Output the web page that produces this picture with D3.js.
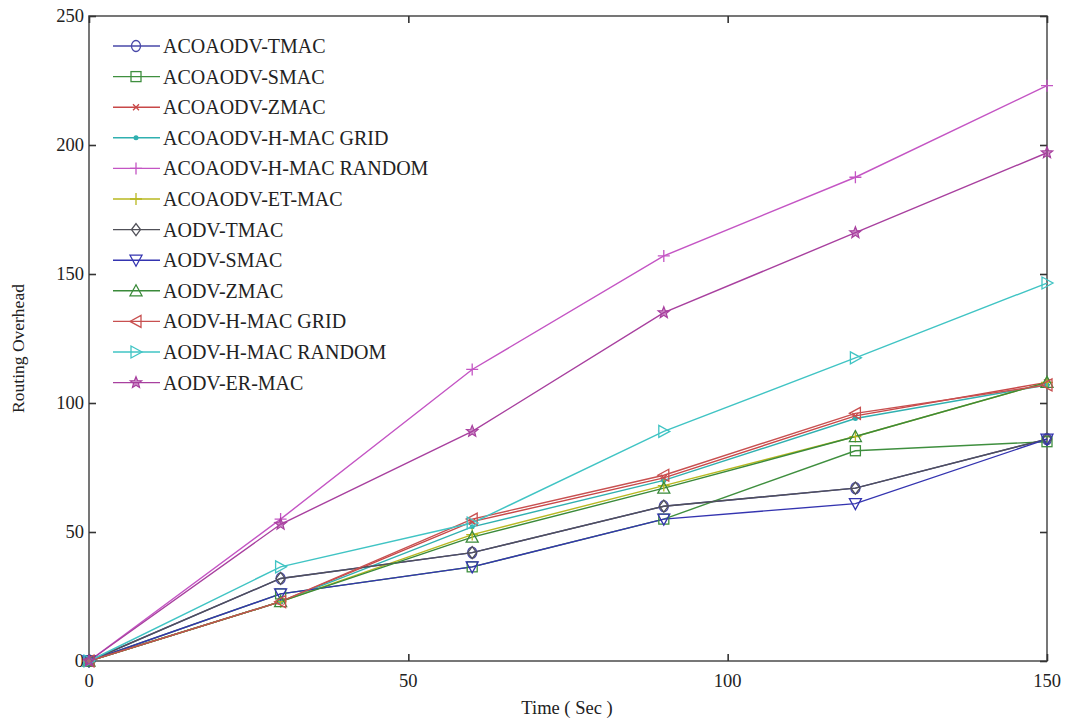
<!DOCTYPE html>
<html>
<head>
<meta charset="utf-8">
<script src="https://cdn.jsdelivr.net/npm/d3@7"></script>
<style>
  body { margin: 0; background: #fff; }
  svg { display: block; }
  text { font-family: "Liberation Serif", "DejaVu Serif", serif; fill: #222; }
</style>
</head>
<body>
<svg id="chart" width="1065" height="723"></svg>
<script>
// ---- data ----
const times = [0, 30, 60, 90, 120, 150];
const seriesNames = [
  "ACOAODV-TMAC", "ACOAODV-SMAC", "ACOAODV-ZMAC", "ACOAODV-H-MAC GRID",
  "ACOAODV-H-MAC RANDOM", "ACOAODV-ET-MAC", "AODV-TMAC", "AODV-SMAC",
  "AODV-ZMAC", "AODV-H-MAC GRID", "AODV-H-MAC RANDOM", "AODV-ER-MAC"
];
const acoaodvTmac    = [0, 32, 42, 60, 67, 86];
const acoaodvSmac    = [0, 26, 36.5, 55, 81.5, 85];
const acoaodvZmac    = [0, 23, 54, 71, 95, 108];
const acoaodvHGrid   = [0, 23, 52, 70, 94, 107];
const acoaodvHRandom = [0, 55, 113, 157, 187.5, 223];
const acoaodvEtMac   = [0, 23, 49, 68, 87, 108];
const aodvTmac       = [0, 32, 42, 60, 67, 86];
const aodvSmac       = [0, 26, 36.5, 55, 61, 86];
const aodvZmac       = [0, 23, 48, 67, 87, 108];
const aodvHGrid      = [0, 23, 55, 72, 96, 107];
const aodvHRandom    = [0, 36.5, 53.5, 89, 117.5, 146.5];
const aodvErMac      = [0, 53, 89, 135, 166, 197];
const seriesValues = [acoaodvTmac, acoaodvSmac, acoaodvZmac, acoaodvHGrid, acoaodvHRandom,
  acoaodvEtMac, aodvTmac, aodvSmac, aodvZmac, aodvHGrid, aodvHRandom, aodvErMac];
const xTicks = [0, 50, 100, 150];
const yTicks = [0, 50, 100, 150, 200, 250];

// ---- styles ----
const colors = ["#4848a8", "#3f8f3f", "#c84848", "#30b0b0", "#c455c4", "#b8b820",
  "#505058", "#3434b0", "#3a8a3a", "#c85050", "#40c4c4", "#a8409f"];
const markers = ["circle", "square", "x", "dot", "plus", "plus", "diamond", "tdown",
  "tup", "tleft", "tright", "star"];

const svg = d3.select("#chart");
const L = 89, R = 1047, T = 16, B = 661;
const x = d3.scaleLinear().domain([0, 150]).range([L, R]);
const y = d3.scaleLinear().domain([0, 250]).range([B, T]);

// frame
svg.append("rect").attr("x", L).attr("y", T).attr("width", R - L).attr("height", B - T)
  .attr("fill", "none").attr("stroke", "#555").attr("stroke-width", 1.6);

// axes (ticks inward)
const tickLen = 7;
const gx = svg.append("g").attr("transform", `translate(0,${B})`)
  .call(d3.axisTop(x).tickValues(xTicks).tickSize(tickLen).tickFormat(""));
const gxTop = svg.append("g").attr("transform", `translate(0,${T})`)
  .call(d3.axisBottom(x).tickValues(xTicks).tickSize(tickLen).tickFormat(""));
const gy = svg.append("g").attr("transform", `translate(${L},0)`)
  .call(d3.axisRight(y).tickValues(yTicks).tickSize(tickLen).tickFormat(""));
const gyR = svg.append("g").attr("transform", `translate(${R},0)`)
  .call(d3.axisLeft(y).tickValues(yTicks).tickSize(tickLen).tickFormat(""));
[gx, gxTop, gy, gyR].forEach(g => {
  g.select(".domain").remove();
  g.selectAll("line").attr("stroke", "#333").attr("stroke-width", 1.6);
});
// tick labels
svg.append("g").selectAll("text").data(xTicks).join("text")
  .attr("x", d => x(d)).attr("y", B + 26).attr("text-anchor", "middle")
  .attr("font-size", 18.5).text(d => d);
svg.append("g").selectAll("text").data(yTicks).join("text")
  .attr("x", L - 5).attr("y", d => y(d) + 6).attr("text-anchor", "end")
  .attr("font-size", 18.5).text(d => d);

// axis titles
svg.append("text").attr("x", (L + R) / 2 - 1).attr("y", 714).attr("text-anchor", "middle")
  .attr("font-size", 18.5).text("Time ( Sec )");
svg.append("text").attr("transform", `translate(24,${(T + B) / 2 + 10}) rotate(-90)`)
  .attr("text-anchor", "middle").attr("font-size", 17.5).text("Routing Overhead");

// marker drawing
function drawMarker(g, type, color, cx, cy) {
  const s = 5;
  const add = (tag) => g.append(tag).attr("fill", "none").attr("stroke", color).attr("stroke-width", 1.3);
  switch (type) {
    case "circle": add("ellipse").attr("cx", cx).attr("cy", cy).attr("rx", 4.5).attr("ry", 5.5); break;
    case "square": add("rect").attr("x", cx - s).attr("y", cy - s).attr("width", 2 * s).attr("height", 2 * s); break;
    case "x": add("path").attr("d", `M${cx-3},${cy-3}L${cx+3},${cy+3}M${cx-3},${cy+3}L${cx+3},${cy-3}`); break;
    case "dot": g.append("circle").attr("cx", cx).attr("cy", cy).attr("r", 2.5).attr("fill", color); break;
    case "plus": add("path").attr("d", `M${cx-6},${cy}L${cx+6},${cy}M${cx},${cy-6}L${cx},${cy+6}`); break;
    case "diamond": add("path").attr("d", `M${cx},${cy-6}L${cx+4.5},${cy}L${cx},${cy+6}L${cx-4.5},${cy}Z`); break;
    case "tdown": add("path").attr("d", `M${cx-6},${cy-5}L${cx+6},${cy-5}L${cx},${cy+6}Z`); break;
    case "tup": add("path").attr("d", `M${cx-6},${cy+5}L${cx+6},${cy+5}L${cx},${cy-6}Z`); break;
    case "tleft": add("path").attr("d", `M${cx+5},${cy-6}L${cx+5},${cy+6}L${cx-6},${cy}Z`); break;
    case "tright": add("path").attr("d", `M${cx-5},${cy-6}L${cx-5},${cy+6}L${cx+6},${cy}Z`); break;
    case "star": {
      const pts = d3.range(10).map(i => {
        const a = -Math.PI / 2 + i * Math.PI / 5, r = i % 2 ? 2.6 : 6;
        return [cx + r * Math.cos(a), cy + r * Math.sin(a)];
      });
      g.append("path").attr("d", "M" + pts.join("L") + "Z").attr("fill", color)
        .attr("fill-opacity", 0.6).attr("stroke", color).attr("stroke-width", 1.2);
      break;
    }
  }
}

// lines
const line = d3.line().x((d, i) => x(times[i])).y(d => y(d));
const plot = svg.append("g");
seriesValues.forEach((vals, k) => {
  plot.append("path").datum(vals).attr("d", line).attr("fill", "none")
    .attr("stroke", colors[k]).attr("stroke-width", 1.4);
});
seriesValues.forEach((vals, k) => {
  const g = plot.append("g");
  vals.forEach((v, i) => drawMarker(g, markers[k], colors[k], x(times[i]), y(v)));
});

// legend
const lg = svg.append("g");
seriesNames.forEach((name, k) => {
  const ly = 46 + k * 30.6;
  lg.append("line").attr("x1", 113).attr("x2", 160).attr("y1", ly).attr("y2", ly)
    .attr("stroke", colors[k]).attr("stroke-width", 1.4);
  drawMarker(lg, markers[k], colors[k], 136, ly);
  lg.append("text").attr("x", 163).attr("y", ly + 7).attr("font-size", 20).text(name);
});
</script>
</body>
</html>
